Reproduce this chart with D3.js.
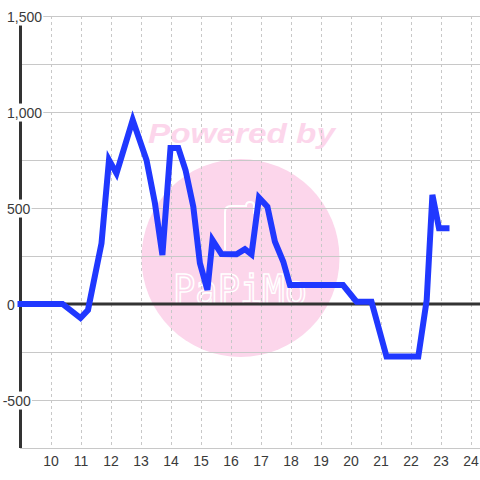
<!DOCTYPE html>
<html>
<head>
<meta charset="utf-8">
<script src="https://cdn.jsdelivr.net/npm/d3@7"></script>
<style>
  html, body { margin: 0; padding: 0; background: #fff; }
  svg { display: block; font-family: "Liberation Sans", Arial, sans-serif; }
</style>
</head>
<body>
<svg id="chart" width="480" height="480"></svg>
<script>
// ---- data ----
const hours = [8.9, 10.4, 11, 11.25, 11.7, 11.95, 12.2, 12.74, 13.2, 13.48, 13.73, 14.0, 14.26, 14.5, 14.76, 14.98, 15.23, 15.4, 15.7, 16.2, 16.48, 16.7, 16.95, 17.23, 17.48, 17.76, 17.98, 19.75, 20.2, 20.7, 21.2, 22.26, 22.54, 22.73, 22.95, 23.3];
const values = [0, 0, -73, -31, 316, 750, 680, 958, 750, 526, 255, 812, 812, 698, 507, 213, 73, 333, 260, 259, 286, 259, 554, 507, 325, 220, 99, 99, 12, 12, -274, -274, 21, 568, 394, 394];
const xTicks = [10, 11, 12, 13, 14, 15, 16, 17, 18, 19, 20, 21, 22, 23, 24];
const yTicks = [-500, 0, 500, 1000, 1500];
const yGrid = [-750, -500, -250, 0, 250, 500, 750, 1000, 1250, 1500];

const svg = d3.select("#chart");
const x = d3.scaleLinear().domain([9, 24 + 1/3]).range([20.5, 480.5]);
const y = d3.scaleLinear().domain([-750, 1500]).range([448, 16]);
const fmt = d3.formatLocale({decimal: ".", thousands: ",", grouping: [3], currency: ["", ""], minus: "-"}).format(",");

// ---- watermark ----
const wm = svg.append("g");
wm.append("circle").attr("cx", 240.5).attr("cy", 258).attr("r", 99).attr("fill", "#fcd6eb");
wm.append("text").attr("x", 148).attr("y", 143)
  .attr("font-size", 28).attr("font-weight", "bold").attr("font-style", "italic")
  .attr("textLength", 187).attr("lengthAdjust", "spacingAndGlyphs")
  .attr("fill", "#fcd6eb").text("Powered by");
wm.append("path").attr("d", "M225,250 L225,212 Q225,206 231,206 L246,206 Q246,202 250,202 Q254,202 254,206 L254,214")
  .attr("fill", "none").attr("stroke", "#fff").attr("stroke-width", 2);
wm.append("text").attr("x", 173).attr("y", 304)
  .attr("font-size", 40).attr("font-family", "DejaVu Sans Mono, monospace")
  .attr("textLength", 134).attr("lengthAdjust", "spacingAndGlyphs")
  .attr("fill", "none").attr("stroke", "#fff").attr("stroke-width", 1.6).text("PaPiMo");

// ---- grid ----
const grid = svg.append("g").attr("shape-rendering", "crispEdges");
grid.selectAll(".vg").data(xTicks).join("line")
  .attr("x1", d => Math.round(x(d)) + 0.5).attr("x2", d => Math.round(x(d)) + 0.5)
  .attr("y1", 16).attr("y2", 448)
  .attr("stroke", "#c8c8c8").attr("stroke-dasharray", "3,3");
grid.selectAll(".hg").data(yGrid).join("line")
  .attr("x1", 20).attr("x2", 480)
  .attr("y1", d => Math.round(y(d)) + 0.5).attr("y2", d => Math.round(y(d)) + 0.5)
  .attr("stroke", "#c8c8c8");

// zero line
svg.append("line").attr("x1", 20).attr("x2", 480).attr("y1", y(0)).attr("y2", y(0))
  .attr("stroke", "#333").attr("stroke-width", 3);
// y axis bar
svg.append("line").attr("x1", x(9)).attr("x2", x(9)).attr("y1", 16).attr("y2", 448)
  .attr("stroke", "#333").attr("stroke-width", 3);

// ---- axes labels ----
const yAxis = svg.append("g")
  .call(d3.axisLeft(y).tickValues(yTicks).tickFormat(fmt).tickSize(0).tickPadding(0));
yAxis.select(".domain").remove();
yAxis.selectAll("text").attr("font-size", 14).attr("fill", "#3a3a3a")
  .attr("font-family", "Liberation Sans, Arial, sans-serif").attr("dy", "0.36em")
  .attr("text-anchor", "start")
  .attr("x", d => d < 0 ? 2.7 : 7);
yAxis.selectAll(".tick").each(function() {
  const t = d3.select(this);
  const bb = t.select("text").node().getBBox();
  t.insert("rect", "text").attr("x", bb.x - 1).attr("y", bb.y - 1)
    .attr("width", bb.width + 2).attr("height", bb.height + 2).attr("fill", "#fff");
});

const xAxis = svg.append("g").attr("transform", "translate(0,454)")
  .call(d3.axisBottom(x).tickValues(xTicks).tickFormat(d3.format("d")).tickSize(0).tickPadding(0));
xAxis.select(".domain").remove();
xAxis.selectAll("text").attr("font-size", 14).attr("fill", "#3a3a3a")
  .attr("font-family", "Liberation Sans, Arial, sans-serif").attr("dy", "0.85em");

// ---- series line ----
const pts = hours.map((h, i) => [h, values[i]]);
svg.append("path").datum(pts)
  .attr("d", d3.line().x(d => x(d[0])).y(d => y(d[1])))
  .attr("fill", "none").attr("stroke", "#2038ff").attr("stroke-width", 6)
  .attr("stroke-linejoin", "miter").attr("stroke-linecap", "butt");
</script>
</body>
</html>
